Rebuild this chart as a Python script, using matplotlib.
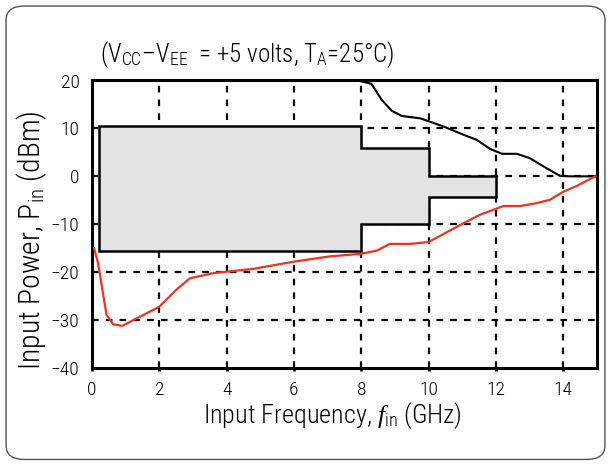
import matplotlib.pyplot as plt
from matplotlib.patches import FancyBboxPatch, Polygon
from matplotlib import font_manager

# Fonts: condensed sans like the datasheet, with fallbacks
names = {f.name for f in font_manager.fontManager.ttflist}
cond = next((n for n in ['Roboto Condensed', 'Archivo Narrow', 'Liberation Sans'] if n in names), 'DejaVu Sans')
plt.rcParams['font.family'] = [cond, 'DejaVu Sans']
plt.rcParams['font.weight'] = 'light'
plt.rcParams['mathtext.fontset'] = 'custom'
plt.rcParams['mathtext.rm'] = cond + ':light'
plt.rcParams['mathtext.it'] = 'Liberation Serif:italic'

# Operating window (step outline)
box_freq = [0.2, 8, 10, 12]
box_upper = [10.5, 6, 0]
box_lower = [-15.5, -10, -4.3]

# Upper limit curve (black)
max_freq = [7.9, 8.3, 8.6, 8.9, 9.2, 9.75, 10.04, 10.44, 11.03, 11.43, 11.83, 12.18,
            12.62, 13.0, 13.5, 13.9, 14.2, 14.95]
max_pin = [20, 19.3, 16.0, 13.7, 12.6, 12.1, 11.4, 10.4, 8.7, 7.6, 5.7, 4.7,
           4.7, 3.8, 1.7, 0.1, 0, 0]

# Lower limit curve (red)
min_freq = [0.06, 0.18, 0.43, 0.63, 0.9, 2.0, 2.5, 2.9, 3.6, 4.0, 4.8, 6.0, 7.07, 7.96,
            8.46, 8.85, 9.45, 10.0, 11.03, 11.53, 12.22, 12.72, 13.2, 13.6, 14.0, 14.4, 14.95]
min_pin = [-15.0, -18.1, -28.9, -30.9, -31.2, -27.2, -23.7, -21.3, -20.2, -19.9, -19.3,
           -17.8, -16.7, -16.2, -15.5, -14.1, -14.1, -13.7, -9.8, -8.0, -6.2, -6.2, -5.6,
           -4.9, -3.2, -2.0, 0.0]

xticks = list(range(0, 15, 2))
yticks = list(range(-40, 21, 10))

W, H = 608, 465
fig = plt.figure(figsize=(W / 100, H / 100), dpi=100)
fig.patches.append(FancyBboxPatch((0.01, 0.012), 0.985, 0.975, boxstyle='round,pad=0,rounding_size=0.03',
                                  transform=fig.transFigure, fill=False, edgecolor='#555555', lw=1.0))
ax = fig.add_axes([92 / W, 1 - 368 / H, (597 - 92) / W, (368 - 80.5) / H])

ax.set_xlim(0, 15)
ax.set_ylim(-40, 20)
ax.set_xticks(xticks)
ax.set_yticks(yticks)
ax.set_xticklabels([str(v) for v in xticks])
ax.set_yticklabels([str(v).replace('-', '\u2212') for v in yticks])

# dashed grid
for xv in xticks[1:]:
    ax.axvline(xv, color='black', lw=1.6, ls=(0, (3, 3.2)), zorder=1)
for yv in yticks[1:-1]:
    ax.axhline(yv, color='black', lw=1.6, ls=(0, (3, 3.2)), zorder=1)

# step-shaped window
verts = []
for i in range(len(box_upper)):
    verts += [(box_freq[i], box_upper[i]), (box_freq[i + 1], box_upper[i])]
for i in reversed(range(len(box_lower))):
    verts += [(box_freq[i + 1], box_lower[i]), (box_freq[i], box_lower[i])]
ax.add_patch(Polygon(verts, closed=True, facecolor='#e3e3e3', edgecolor='black', lw=1.8, zorder=2))

ax.plot(max_freq, max_pin, color='black', lw=1.5, zorder=3)
ax.plot(min_freq, min_pin, color='#ee3322', lw=1.6, zorder=3)

for s in ax.spines.values():
    s.set_linewidth(2.2)
ax.tick_params(axis='x', direction='out', length=2.5, width=2, labelsize=14, pad=7)
ax.tick_params(axis='y', length=0, labelsize=14, pad=9)

xl = fig.text(332 / W, 1 - 423 / H, r'Input Frequency, $\mathit{f}_{\rm in}$ (GHz)', fontsize=18,
              ha='center', va='baseline')
yl = fig.text(32 / W, 1 - 240 / H, r'Input Power, P$_{\rm in}$ (dBm)', fontsize=18,
              rotation=90, ha='center', va='center')
tt = fig.text(100 / W, 1 - 62 / H, r'(V$_{\rm CC}$–V$_{\rm EE}$  = +5 volts, T$_{\rm A}$=25°C)', fontsize=17,
              ha='left', va='baseline')

# scale text sizes so their widths match the reference
fig.canvas.draw()
for t, target, use_h in [(xl, 259, False), (yl, 260, True), (tt, 295, False)]:
    bb = t.get_window_extent()
    t.set_fontsize(t.get_fontsize() * target / (bb.height if use_h else bb.width))
bb = ax.get_yticklabels()[-1].get_window_extent()
tick_size = 14 * 19 / bb.width
ax.tick_params(axis='both', labelsize=tick_size)

fig.savefig('out.png', dpi=100)
